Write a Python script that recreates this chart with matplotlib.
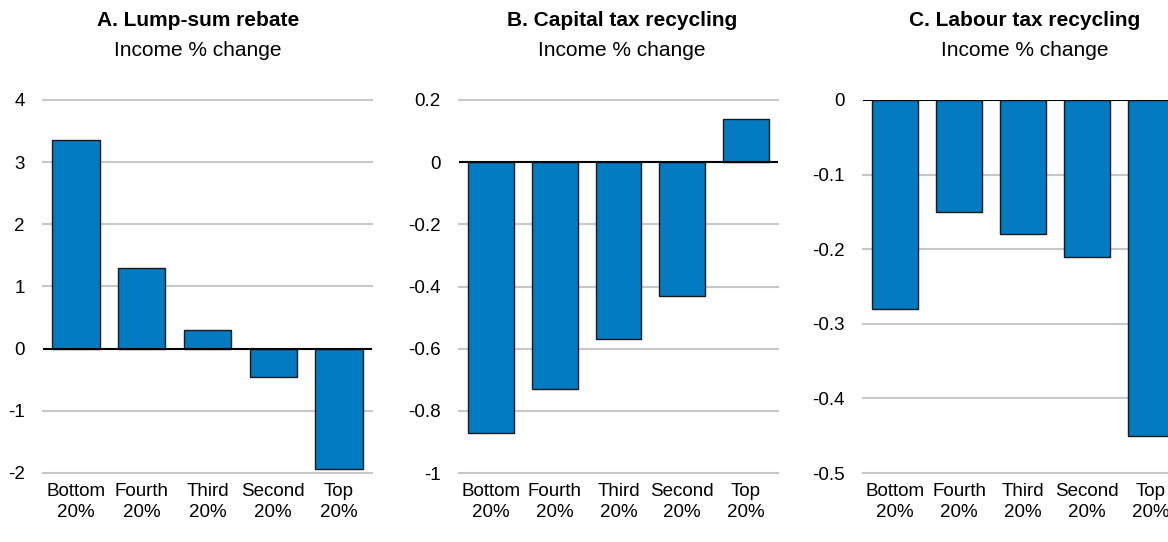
import matplotlib
matplotlib.use("Agg")
import matplotlib.pyplot as plt

plt.rcParams['font.family'] = ['Liberation Sans', 'DejaVu Sans']

groups = ["Bottom\n20%", "Fourth\n20%", "Third\n20%", "Second\n20%", "Top\n20%"]

lump_sum = [3.35, 1.29, 0.30, -0.46, -1.93]
capital_tax = [-0.87, -0.73, -0.57, -0.43, 0.14]
labour_tax = [-0.28, -0.15, -0.18, -0.21, -0.45]

titles = ["A. Lump-sum rebate", "B. Capital tax recycling", "C. Labour tax recycling"]
subtitle = "Income % change"

yticks_a = [-2, -1, 0, 1, 2, 3, 4]
yticks_b = [-1, -0.8, -0.6, -0.4, -0.2, 0, 0.2]
yticks_c = [-0.5, -0.4, -0.3, -0.2, -0.1, 0]

BAR_COLOR = "#037BC1"
GRID_COLOR = "#c8c8c8"
W, H = 1168.0, 542.0


def draw_panel(ax, values, yticks, title, title_x):
    x = range(len(values))
    ax.set_xlim(-0.5, len(values) - 0.5)
    ax.set_ylim(yticks[0], yticks[-1])
    for t in yticks:
        if t == 0:
            continue
        ax.axhline(t, color=GRID_COLOR, lw=1.5, zorder=0, clip_on=False)
    ax.bar(x, values, width=0.72, color=BAR_COLOR, edgecolor="#1a1a1a",
           linewidth=1.0, zorder=2)
    ax.axhline(0, color="black", lw=1.5, zorder=3)
    ax.set_yticks(yticks)
    ax.set_yticklabels([f"{t:g}" for t in yticks])
    ax.set_xticks(list(x))
    ax.set_xticklabels(groups, linespacing=1.3)
    ax.tick_params(axis="both", length=0, labelsize=13.5, colors="black")
    ax.tick_params(axis="y", pad=13)
    ax.tick_params(axis="x", pad=7)
    for s in ax.spines.values():
        s.set_visible(False)
    # title block, placed in figure pixels
    fig.text(title_x / W, 1 - 21 / H, title, ha="center", va="center",
             fontsize=15, fontweight="bold")
    fig.text(title_x / W, 1 - 50 / H, subtitle, ha="center", va="center",
             fontsize=15)


fig = plt.figure(figsize=(11.68, 5.42), dpi=100)
bottom = 1 - 473 / H
height = 373 / H

ax_a = fig.add_axes([43 / W, bottom, 329 / W, height])
ax_b = fig.add_axes([459 / W, bottom, 319 / W, height])
ax_c = fig.add_axes([863 / W, bottom, 320 / W, height])

draw_panel(ax_a, lump_sum, yticks_a, titles[0], 198)
draw_panel(ax_b, capital_tax, yticks_b, titles[1], 622)
draw_panel(ax_c, labour_tax, yticks_c, titles[2], 1025)

fig.savefig("out.png", dpi=100)
